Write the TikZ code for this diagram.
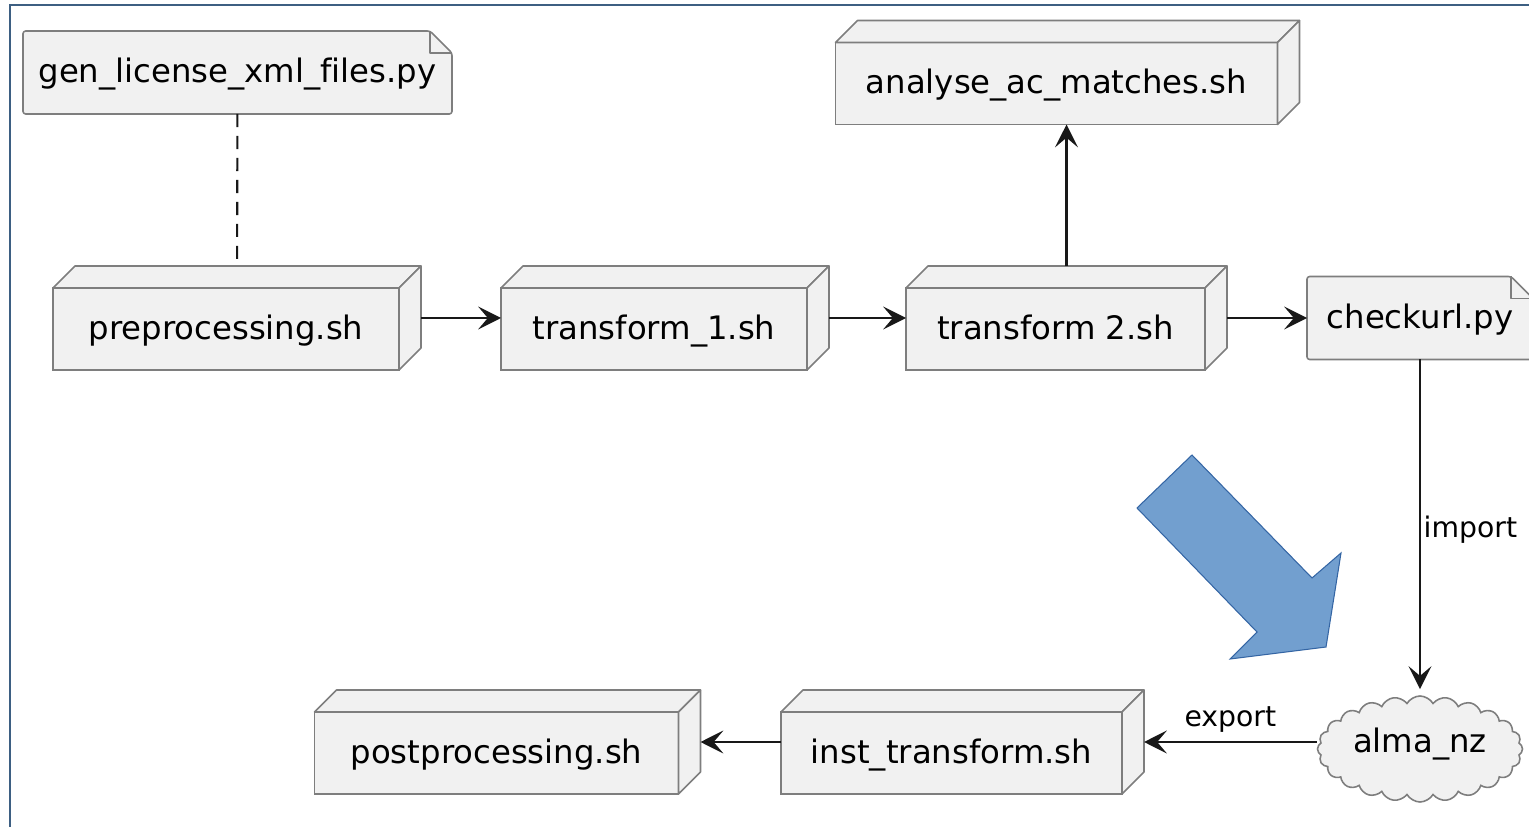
\documentclass[tikz,border=0pt]{standalone}
\usepackage{fontspec}
\setmainfont{DejaVu Sans}[Ligatures={NoCommon}]
\usetikzlibrary{arrows.meta,shapes.symbols,backgrounds}

\definecolor{boxfill}{HTML}{F1F1F1}
\definecolor{boxline}{HTML}{7E7E7E}
\definecolor{wirecol}{HTML}{181818}
\definecolor{framecol}{HTML}{3D5F82}
\definecolor{bigfill}{HTML}{729FCF}
\definecolor{bigline}{HTML}{3465A4}

\tikzset{
  every node/.style={font=\fontsize{18.4pt}{22pt}\selectfont, text=black,
    text height=16pt, text depth=4.4pt},
  outerbox/.style={inner sep=0pt, outer sep=0pt, minimum height=104*0.02cm},
  frontface/.style={draw=boxline, fill=boxfill, line width=0.9pt,
    inner sep=0pt, outer sep=0pt, minimum height=82*0.02cm},
  faceside/.style={draw=boxline, fill=boxfill, line width=0.9pt, line join=round},
  notebox/.style={inner sep=0pt, outer sep=0pt, minimum height=83*0.02cm},
  wire/.style={draw=wirecol, line width=1.25pt,
    -{Stealth[length=13pt,width=13pt,inset=5.5pt]}},
  link/.style={draw=wirecol, line width=1.2pt, dash pattern=on 7.5pt off 5pt},
  lbl/.style={font=\fontsize{16.1pt}{19pt}\selectfont, text height=11pt, text depth=3.5pt},
}

% 3D box: outer node #1 (whole solid), front face #1f
% #2,#3 centre of the solid, #4 front width (px), #5 text
\newcommand\solidbox[5]{%
  \node[outerbox, minimum width={(#4+22)*0.02cm}] (#1) at (#2,#3) {};
  \node[frontface, minimum width={#4*0.02cm}] (#1f) at ([shift={(-11,11)}]#1.center) {#5};
  \draw[faceside] (#1f.north west) -- ([shift={(22,-22)}]#1f.north west)
    -- (#1.north east) -- (#1f.north east) -- cycle;
  \draw[faceside] (#1f.north east) -- (#1.north east)
    -- ([shift={(22,-22)}]#1f.south east) -- (#1f.south east) -- cycle;
}

% note with a folded corner
\newcommand\notebox[5]{%
  \node[notebox, minimum width={#4*0.02cm}] (#1) at (#2,#3) {#5};
  \begin{scope}[on background layer]
    \draw[faceside, rounded corners=1.5pt] (#1.south west) -- (#1.north west)
      -- ([shift={(-22,0)}]#1.north east) -- ([shift={(0,22)}]#1.north east)
      -- (#1.south east) -- cycle;
    \draw[faceside, fill=none] ([shift={(-22,0)}]#1.north east)
      -- ([shift={(-22,22)}]#1.north east) -- ([shift={(0,22)}]#1.north east);
  \end{scope}
}

\begin{document}
\begin{tikzpicture}[x=0.02cm, y=-0.02cm]
  \useasboundingbox (0,0) rectangle (1529,827);
  \clip (0,0) rectangle (1529,827);

  % frame edges
  \draw[framecol, line width=1.2pt] (10,827) -- (10,5) -- (1529,5);

  % scripts
  \notebox{gen}{237.5}{72.5}{429}{gen\_license\_xml\_files.py}
  \solidbox{pre}{237}{318}{346}{preprocessing.sh}
  \solidbox{tone}{665}{318}{306}{transform\_1.sh}
  \solidbox{ttwo}{1066.5}{318}{299}{transform 2.sh}
  \solidbox{ana}{1067.5}{72.5}{442}{analyse\_ac\_matches.sh}
  \notebox{chk}{1420}{318}{226}{checkurl.py}
  \node[cloud, cloud puffs=24, cloud puff arc=120, cloud ignores aspect,
    draw=boxline, fill=boxfill, line width=0.9pt, inner sep=0pt,
    minimum width=205*0.02cm, minimum height=106*0.02cm]
    (alma) at (1420,749) {\raisebox{4pt}{alma\_nz}};
  \solidbox{inst}{962.5}{742}{341}{inst\_transform.sh}
  \solidbox{post}{507.5}{742}{364}{postprocessing.sh}

  % connections
  \draw[link] (gen) -- (pre);
  \draw[wire] (pre) -- (tone);
  \draw[wire] (tone) -- (ttwo);
  \draw[wire] (ttwo) -- (chk);
  \draw[wire] (ttwo.north) -- (ttwo.north |- ana.south);
  \draw[wire, shorten >=3.5pt] (chk.south) --
    node[lbl, pos=0.51, anchor=west, inner sep=1.5pt] {import} (alma.north);
  \draw[wire] (alma.west |- inst.east) --
    node[lbl, above, inner xsep=0pt, inner ysep=4.5pt] {export} (inst.east);
  \draw[wire] (inst) -- (post);

  % big blue hint arrow
  \filldraw[fill=bigfill, draw=bigline, line width=0.6pt, line join=miter]
    (1192,455) -- (1312,578) -- (1341,553) -- (1326,647) -- (1230,659)
    -- (1257,632) -- (1137,508) -- cycle;
\end{tikzpicture}
\end{document}
